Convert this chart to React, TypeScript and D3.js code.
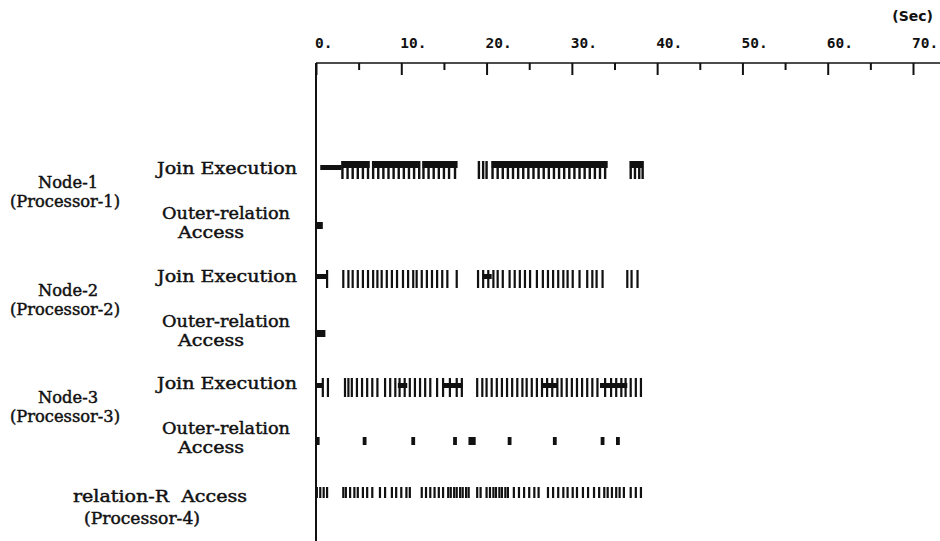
import React, { useEffect, useRef } from "react";
import * as d3 from "d3";

// time axis (seconds)
const majorTicks = [0, 10, 20, 30, 40, 50, 60, 70];
const minorTicks = [5, 15, 25, 35, 45, 55, 65];
const tickLabels = ["0.", "10.", "20.", "30.", "40.", "50.", "60.", "70."];

// Node-1 join execution
const n1JoinBars = [[0.5, 3.0]];
const n1JoinBands = [[3.0, 6.3], [6.6, 12.2], [12.5, 16.6], [20.6, 34.2], [36.8, 38.3]];
const n1JoinTicks = [
  3.1, 3.7, 4.3, 4.9, 5.5, 6.1,
  6.7, 7.3, 7.9, 8.5, 9.1, 9.7, 10.3, 10.9, 11.5, 12.1,
  12.6, 13.2, 13.8, 14.4, 15.0, 15.6, 16.3,
  19.1, 19.6, 20.0,
  20.7, 21.3, 21.9, 22.5, 23.1, 23.7, 24.3, 24.9, 25.5, 26.1, 26.7, 27.3, 27.9,
  28.5, 29.1, 29.7, 30.3, 30.9, 31.5, 32.1, 32.7, 33.3, 33.9,
  36.9, 37.4, 37.9, 38.3,
];
const n1OuterBars = [[0.0, 0.8]];

// Node-2 join execution
const n2JoinBars = [[0.1, 1.3], [19.5, 20.6]];
const n2JoinTicks = [
  1.3,
  3.2, 3.8, 4.3, 4.9, 5.5, 6.1, 6.7, 7.2,
  7.7, 8.3, 8.9, 9.5, 10.2, 10.8, 11.4, 11.8,
  12.4, 13.0, 13.6, 14.2, 14.8, 15.4, 16.5,
  19.0, 19.6, 20.2, 20.8, 21.3, 21.9, 22.7, 23.3, 23.9, 24.5, 25.1, 25.9, 26.6,
  27.2, 27.8, 28.4, 29.0, 29.5, 30.1, 30.9, 31.8, 32.4, 32.9, 33.6,
  36.5, 37.0, 37.7,
];
const n2OuterBars = [[0.0, 1.1]];

// Node-3 join execution
const n3JoinBars = [[0.1, 0.8], [9.6, 10.7], [14.9, 17.2], [26.6, 28.3], [33.3, 36.5]];
const n3JoinTicks = [
  0.8, 1.4,
  3.4, 3.8, 4.2, 4.8, 5.4, 6.0, 6.6, 7.2,
  8.1, 8.7, 9.3, 9.8, 10.4, 11.0, 11.6, 12.2, 12.8, 13.4, 14.2, 14.9, 15.7, 16.5, 17.1,
  18.9, 19.5, 20.0, 20.6, 21.2, 21.8, 22.4, 23.0, 23.6, 24.2, 24.7, 25.3, 25.9,
  26.5, 27.1, 27.7, 28.3, 28.8, 29.4, 30.0, 30.6, 31.2, 31.8, 32.4, 33.0,
  33.9, 34.6, 35.2, 35.8, 36.3, 36.9, 37.5, 38.1,
];
const n3OuterDots = [0.2, 5.7, 11.4, 16.3, 18.1, 18.5, 22.7, 28.0, 33.6, 35.4];

// relation-R access (Processor-4)
const relRTicks = [
  0.1, 0.5, 0.9, 1.3,
  3.2, 3.5, 4.0, 4.5, 4.9, 5.5, 6.0, 6.6, 7.5, 8.1,
  8.9, 9.4, 10.0, 10.6, 11.0,
  12.4, 12.9, 13.4, 13.9, 14.4, 14.9,
  15.5, 15.8, 16.2, 16.5, 16.9, 17.2, 17.6, 17.9,
  18.9, 19.3,
  20.0, 20.4, 20.8, 21.1, 21.5, 21.8, 22.2, 22.5,
  23.2, 23.8, 24.4, 25.0, 25.6, 26.1,
  27.2, 27.8, 28.4, 29.0, 29.5, 30.1, 30.6,
  31.3, 31.9, 32.6, 33.2,
  33.8, 34.2, 34.7, 35.2, 35.6, 36.1,
  36.9, 37.5, 38.1,
];

const serif = "'DejaVu Serif', 'Liberation Serif', serif";

export default function App() {
  const svgRef = useRef<SVGSVGElement>(null);

  useEffect(() => {
    const svg = d3.select(svgRef.current);
    svg.selectAll("*").remove();

    const x = d3.scaleLinear().domain([0, 70]).range([316, 913]);
    const axisY = 63;
    const ink = "#111";

    // --- TOP AXIS ---
    svg.append("line")
      .attr("x1", 316).attr("x2", 940)
      .attr("y1", axisY).attr("y2", axisY)
      .attr("stroke", ink).attr("stroke-width", 1.6);
    svg.append("line")
      .attr("x1", 316).attr("x2", 316)
      .attr("y1", axisY).attr("y2", 541)
      .attr("stroke", ink).attr("stroke-width", 2);

    const major = svg.append("g").attr("transform", `translate(0,${axisY})`)
      .call(d3.axisBottom(x).tickValues(majorTicks).tickSize(12).tickFormat(() => ""));
    const minor = svg.append("g").attr("transform", `translate(0,${axisY})`)
      .call(d3.axisBottom(x).tickValues(minorTicks).tickSize(7).tickFormat(() => ""));
    [major, minor].forEach((g) => {
      g.select(".domain").remove();
      g.selectAll("line").attr("stroke", ink).attr("stroke-width", 2);
    });

    svg.append("g")
      .selectAll("text")
      .data(majorTicks)
      .join("text")
      .attr("x", (d) => x(d) - 1)
      .attr("y", 48)
      .style("font-family", "'DejaVu Sans Mono', monospace")
      .style("font-weight", "bold")
      .style("font-size", "14.5px")
      .style("fill", ink)
      .text((d, i) => tickLabels[i]);

    svg.append("text")
      .attr("x", 933).attr("y", 21)
      .attr("text-anchor", "end")
      .style("font-family", "'DejaVu Sans', sans-serif")
      .style("font-weight", "bold")
      .style("font-size", "14px")
      .style("fill", ink)
      .text("(Sec)");

    // --- ACTIVITY ROWS ---
    const drawBars = (data: number[][], y: number, h: number) => {
      svg.append("g").selectAll("rect").data(data).join("rect")
        .attr("x", (d) => x(d[0]))
        .attr("width", (d) => Math.max(2, x(d[1]) - x(d[0])))
        .attr("y", y).attr("height", h)
        .attr("fill", ink);
    };
    const drawTicks = (data: number[], y: number, h: number, w: number) => {
      svg.append("g").selectAll("rect").data(data).join("rect")
        .attr("x", (d) => x(d) - w / 2)
        .attr("width", w)
        .attr("y", y).attr("height", h)
        .attr("fill", ink);
    };

    // Node-1
    drawBars(n1JoinBars, 165, 5);
    drawBars(n1JoinBands, 161, 7);
    drawTicks(n1JoinTicks, 161, 18, 2.4);
    drawBars(n1OuterBars, 222, 7);
    // Node-2
    drawBars(n2JoinBars, 274, 5);
    drawTicks(n2JoinTicks, 270, 18, 2.2);
    drawBars(n2OuterBars, 330, 7);
    // Node-3
    drawBars(n3JoinBars, 383, 5);
    drawTicks(n3JoinTicks, 378, 19, 2.2);
    drawTicks(n3OuterDots, 437, 8, 3.8);
    // relation-R
    drawTicks(relRTicks, 487, 11, 2.2);

    // --- LEFT LABELS --- [text, centre x, baseline y, width]
    const labels: [string, number, number, number][] = [];
    const nodes = ["1", "2", "3"];
    nodes.forEach((n, i) => {
      const dy = i * 107.5;
      labels.push(["Join Execution", 227, 174 + dy, 140]);
      labels.push([`Node-${n}`, 68, 188 + dy, 60]);
      labels.push([`(Processor-${n})`, 65, 207 + dy, 110]);
      labels.push(["Outer-relation", 226, 219 + dy, 128]);
      labels.push(["Access", 211, 238 + dy, 66]);
    });
    labels.push(["relation-R  Access", 160, 502, 174]);
    labels.push(["(Processor-4)", 142, 524, 116]);

    svg.append("g").selectAll("text").data(labels).join("text")
      .attr("x", (d) => d[1] - d[3] / 2)
      .attr("y", (d) => d[2])
      .attr("textLength", (d) => d[3])
      .attr("lengthAdjust", "spacingAndGlyphs")
      .style("font-family", serif)
      .style("font-size", "16px")
      .style("fill", ink)
      .style("stroke", ink)
      .style("stroke-width", 0.45)
      .style("white-space", "pre")
      .text((d) => d[0]);
  }, []);

  return (
    <svg
      ref={svgRef}
      width="940"
      height="541"
      style={{ position: "fixed", left: 0, top: 0, background: "#fff" }}
    ></svg>
  );
}
